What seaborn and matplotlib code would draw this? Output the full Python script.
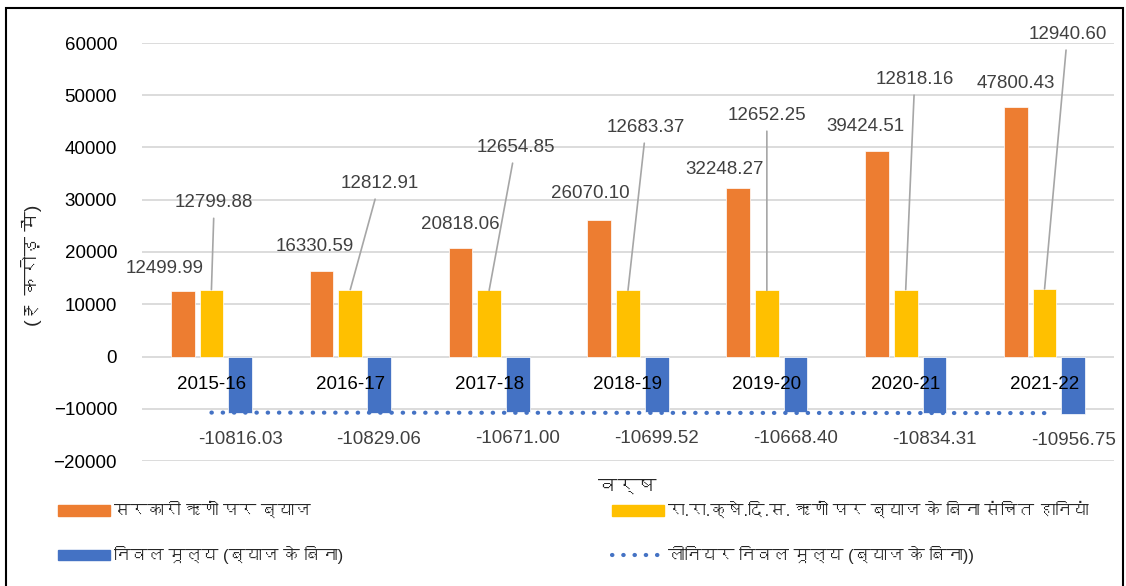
import matplotlib
matplotlib.use('Agg')
import matplotlib.pyplot as plt
from matplotlib import font_manager
from matplotlib.lines import Line2D
from matplotlib.patches import Patch, Rectangle
import numpy as np
import pandas as pd
import seaborn as sns
from fontTools.ttLib import TTFont

# dados do gráfico
anos = ['2015-16', '2016-17', '2017-18', '2018-19', '2019-20', '2020-21', '2021-22']
juros_govt = [12499.99, 16330.59, 20818.06, 26070.10, 32248.27, 39424.51, 47800.43]
perdas_sem_juros = [12799.88, 12812.91, 12654.85, 12683.37, 12652.25, 12818.16, 12940.60]
valor_liquido = [-10816.03, -10829.06, -10671.00, -10699.52, -10668.40, -10834.31, -10956.75]

nomes = ['सरकारी ऋणों पर ब्याज',
         'रा.रा.क्षे.दि.स. ऋणों पर ब्याज के बिना संचित हानियां',
         'निवल मूल्य (ब्याज के बिना)']
nome_tendencia = 'लीनियर निवल मूल्य (ब्याज के बिना))'
cores = ['#ED7D31', '#FFC000', '#4472C4']


def fonte_devanagari():
    # procura uma fonte instalada que tenha o caractere 'क'
    for f in font_manager.fontManager.ttflist:
        try:
            tt = TTFont(f.fname, fontNumber=0, lazy=True)
            if 0x0915 in tt.getBestCmap():
                return f.name
        except Exception:
            pass
    return None


sns.set_theme(style='white')
dev = fonte_devanagari()
familias = ['Liberation Sans', 'DejaVu Sans']
if dev:
    familias.insert(1, dev)
plt.rcParams['font.family'] = familias

df = pd.DataFrame({'ano': anos * 3,
                   'valor': juros_govt + perdas_sem_juros + valor_liquido,
                   'serie': [n for n in nomes for _ in anos]})

fig = plt.figure(figsize=(11.26, 5.86), dpi=100)
ax = fig.add_axes([142 / 1126, 1 - 461 / 586, 972 / 1126, 418 / 586])

sns.barplot(data=df, x='ano', y='valor', hue='serie', hue_order=nomes,
            palette=cores, saturation=1, width=0.62, gap=0.17, legend=False,
            ax=ax, edgecolor='white', linewidth=0.5, zorder=3)

ax.set_ylim(-20000, 60000)
ax.set_xlim(-0.5, 6.5)
ax.set_yticks(range(-20000, 60001, 10000))
ax.tick_params(axis='y', labelsize=13.5, pad=18, length=0, labelcolor='#000000')
ax.grid(axis='y', color='#d9d9d9', linewidth=1.3, zorder=0)
ax.set_axisbelow(True)
sns.despine(ax=ax, left=True, bottom=True)
ax.set_xticks([])
ax.set_xlabel('')
ax.set_ylabel('')

# rótulos dos anos logo abaixo do zero
for i, a in enumerate(anos):
    ax.annotate(a, (i, 0), xytext=(0, -20), textcoords='offset points',
                ha='center', va='center', fontsize=13.5, color='#000000', zorder=5)

# linha de tendência linear
xs = np.arange(len(anos))
coef = np.polyfit(xs, valor_liquido, 1)
ax.plot(xs, np.polyval(coef, xs), linestyle=(0, (0.1, 2.6)), dash_capstyle='round',
        color='#4472C4', linewidth=3, zorder=4)

# rótulos das barras laranja e azul
passo = 0.62 / 3
desloc_laranja = [-18, -7, 0, -9, -14, -12, 0]
alt_laranja = [16, 18, 17, 19, 13, 17, 17]
for i, v in enumerate(juros_govt):
    ax.annotate(f'{v:.2f}', (i - passo, v),
                xytext=(desloc_laranja[i] * 0.72, alt_laranja[i]),
                textcoords='offset points', ha='center', va='center',
                fontsize=13.5, color='#404040')
for i, v in enumerate(valor_liquido):
    ax.annotate(f'{v:.2f}', (i + passo, v), xytext=(0, -19),
                textcoords='offset points', ha='center', va='center',
                fontsize=13.5, color='#404040')

# rótulos amarelos com linhas de chamada
desloc_x = [0.02, 0.21, 0.19, 0.13, 0.0, 0.065, 0.165]
pos_y = [29500, 33140, 40040, 43870, 46170, 53070, 61690]
for i, v in enumerate(perdas_sem_juros):
    ax.annotate(f'{v:.2f}', (i, v), xytext=(i + desloc_x[i], pos_y[i]),
                textcoords='data', ha='center', va='center', fontsize=13.5,
                color='#404040', annotation_clip=False,
                arrowprops=dict(arrowstyle='-', color='#a6a6a6', lw=1.2,
                                shrinkA=3, shrinkB=0))

fig.text(627 / 1126, 1 - 487 / 586, 'वर्ष', ha='center', va='center', fontsize=14)
fig.text(32 / 1126, 1 - 265 / 586, '(₹ करोड़ में)', rotation=90,
         ha='center', va='center', fontsize=14)

# legenda em duas colunas separadas
tend = Line2D([], [], color='#4472C4', linestyle=(0, (0.1, 2.6)),
              dash_capstyle='round', linewidth=3)
estilo = dict(loc='upper left', frameon=False, fontsize=12, handlelength=3.1,
              handleheight=0.62, handletextpad=0.25, labelspacing=1.6,
              borderpad=0, borderaxespad=0)
leg1 = fig.legend([Patch(color=cores[0]), Patch(color=cores[2])],
                  [nomes[0], nomes[2]],
                  bbox_to_anchor=(58 / 1126, 1 - 502 / 586), **estilo)
leg2 = fig.legend([Patch(color=cores[1]), tend], [nomes[1], nome_tendencia],
                  bbox_to_anchor=(612 / 1126, 1 - 502 / 586), **estilo)

fig.patches.append(Rectangle((6 / 1126, -0.01), 1117 / 1126, 1 - 8 / 586 + 0.01,
                             transform=fig.transFigure, fill=False,
                             edgecolor='black', linewidth=1.5))

fig.savefig('out.png', dpi=100)
